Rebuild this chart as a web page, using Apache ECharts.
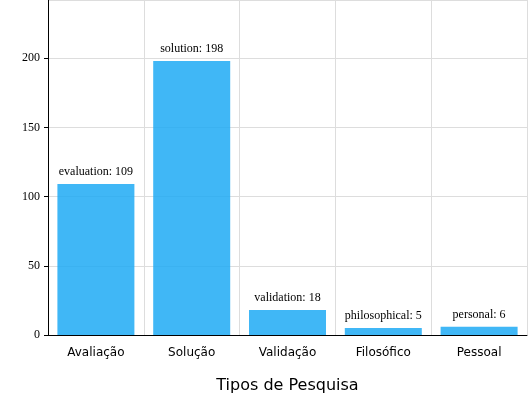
<!DOCTYPE html>
<html><head><meta charset="utf-8">
<script src="https://cdn.jsdelivr.net/npm/echarts@6/dist/echarts.min.js"></script>
<style>html,body{margin:0;padding:0;background:#fff}#c{width:528px;height:407px}</style>
</head><body><div id="c"></div>
<script>
var categories = ['Avaliação', 'Solução', 'Validação', 'Filosófico', 'Pessoal'];
var keys = ['evaluation', 'solution', 'validation', 'philosophical', 'personal'];
var values = [109, 198, 18, 5, 6];

var chart = echarts.init(document.getElementById('c'));
chart.setOption({
    animation: false,
    grid: { left: 48, right: 1, top: 0, bottom: 72 },
    xAxis: {
        type: 'category',
        data: categories,
        name: 'Tipos de Pesquisa',
        nameLocation: 'middle',
        nameGap: 43,
        nameTextStyle: { fontFamily: 'DejaVu Sans', fontSize: 16, color: '#000' },
        axisLine: { lineStyle: { color: '#000' } },
        axisTick: { show: false },
        axisLabel: { fontFamily: 'DejaVu Sans', fontSize: 12, color: '#000', margin: 12 },
        splitLine: { show: true, lineStyle: { color: '#ddd' } }
    },
    yAxis: {
        type: 'value',
        min: 0, max: 242, interval: 50,
        axisLine: { show: true, lineStyle: { color: '#000' } },
        axisTick: { show: true, length: 4, lineStyle: { color: '#000' } },
        axisLabel: { fontFamily: 'Liberation Serif', fontSize: 12, color: '#000', showMaxLabel: false },
        splitLine: { lineStyle: { color: '#ddd' } }
    },
    series: [{
        type: 'bar',
        data: values,
        barWidth: 77,
        itemStyle: { color: 'rgba(30,170,245,0.85)' },
        label: {
            show: true, position: 'top', distance: 6,
            fontFamily: 'Liberation Serif', fontSize: 12, color: '#000',
            formatter: function (p) { return keys[p.dataIndex] + ': ' + p.value; }
        }
    }]
});
</script></body></html>
